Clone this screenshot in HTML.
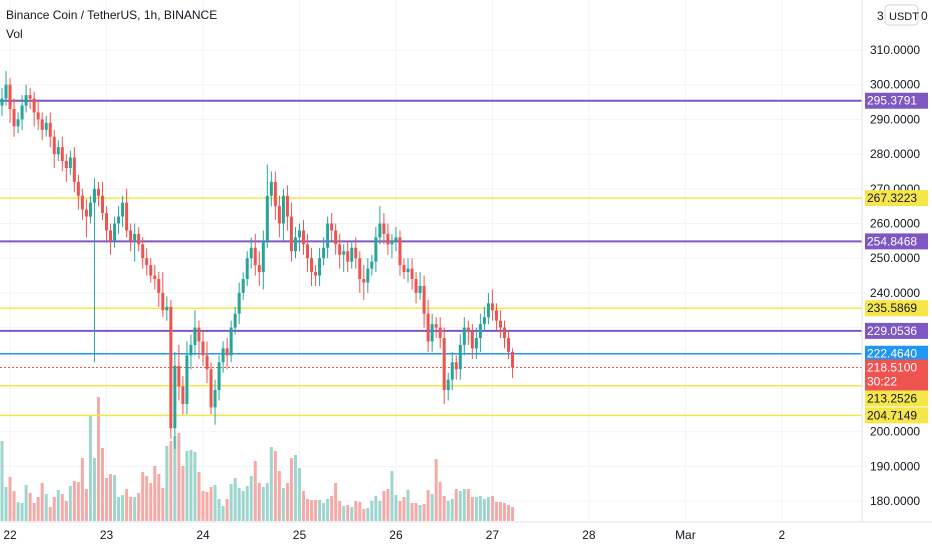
<!DOCTYPE html>
<html><head><meta charset="utf-8"><style>
html,body{margin:0;padding:0;background:#fff;overflow:hidden}
svg{display:block;font-family:"Liberation Sans",sans-serif}
</style></head><body>
<svg id="chart" width="932" height="550" viewBox="0 0 932 550">
<rect width="932" height="550" fill="#fff"/>
<g id="grid"></g>
<g id="vol"></g>
<g id="levels"></g>
<g id="candles"></g>
<line x1="862" y1="0" x2="862" y2="522" stroke="#e0e3eb"/>
<line x1="0" y1="522" x2="932" y2="522" stroke="#e0e3eb"/>
<g id="yaxis"></g>
<g id="xaxis"></g>
<g id="labels"></g>
<text x="6" y="19" font-size="12" fill="#131722">Binance Coin / TetherUS, 1h, BINANCE</text>
<text x="6" y="38" font-size="12" fill="#131722">Vol</text>
<text x="877" y="20" font-size="12" fill="#131722">3</text>
<rect x="885" y="5" width="33" height="20" rx="4" fill="#fff" stroke="#d1d4dc"/>
<text x="889" y="20" font-size="11" fill="#131722">USDT</text>
<text x="921" y="20" font-size="12" fill="#131722">0</text>
</svg>
<script>
const closes=[296,300,293,288,290,294,297,296,292,290,287,289,285,280,282,278,276,279,272,268,264,262,266,270,268,263,258,255,260,262,266,258,255,257,254,250,248,245,244,240,235,236,201,219,213,208,222,225,230,226,222,218,207,212,220,224,222,230,234,240,244,250,253,248,246,255,268,272,265,260,268,262,252,256,258,254,250,246,245,250,253,260,258,254,251,252,249,253,250,244,243,247,249,256,260,257,254,255,256,248,246,247,244,240,242,234,226,231,230,227,212,215,220,218,225,230,229,224,227,231,233,237,235,232,230,227,223,218.51];
const wickUp=[3,4,2,3,2,3,3,2,2,3,2,2,3,2,2,3,2,2,3,2,2,3,2,3,2,4,2,2,2,3,2,4,2,3,2,2,3,2,3,2,6,3,2,4,6,3,4,3,5,2,3,4,2,3,2,2,3,2,2,3,2,2,3,4,4,3,9,3,3,3,2,3,4,3,2,3,3,3,2,3,3,2,3,2,3,2,3,2,3,2,4,3,2,3,5,3,3,2,3,2,2,3,3,2,4,3,4,3,2,3,3,2,3,2,3,3,2,2,3,3,3,3,4,2,3,2,2,1];
const wickDn=[3,2,4,3,2,3,2,3,4,3,3,2,3,4,2,3,4,2,3,4,3,6,2,46,3,2,3,4,2,3,3,2,3,6,2,3,3,2,3,4,2,3,3,6,4,3,3,4,3,5,3,4,2,5,3,3,4,2,2,3,2,2,3,3,4,5,2,3,4,4,5,4,3,2,4,3,4,4,3,3,2,3,3,3,4,5,3,2,3,4,5,3,2,3,2,3,3,4,3,3,2,3,3,3,2,4,3,3,3,3,4,3,3,3,3,3,4,3,3,4,2,2,3,3,3,3,2,3];
const volumes=[80,34,44,30,19,18,36,28,18,24,38,27,14,24,31,27,20,35,40,39,63,32,105,63,124,73,43,47,46,24,26,32,24,24,28,49,45,38,55,47,33,75,80,85,88,55,70,71,69,49,30,29,34,36,22,15,22,37,43,33,30,35,45,60,38,34,38,74,70,50,33,38,63,66,53,30,22,21,21,21,18,22,25,38,20,15,16,14,20,19,12,13,20,25,20,30,32,50,26,20,24,31,18,18,16,17,31,27,62,39,25,20,22,32,30,32,32,24,24,25,22,24,25,19,19,18,16,14];
const priceTicks=[310,300,290,280,270,260,250,240,230,200,190,180];
const dayLabels=["22","23","24","25","26","27","28","Mar","2"];
const dayIndex=[2,26,50,74,98,122,146,170,194];
const levelPrices=[295.3791,254.8468,229.0536,267.3223,235.5869,213.2526,204.7149,222.4640];
const levelKinds=["purple","purple","purple","yellow","yellow","yellow","yellow","blue"];
const lastPrice=218.51;

const NS="http://www.w3.org/2000/svg";
const colors={purple:"#7e57c2",yellow:"#f7e64a",blue:"#2196f3"};
const textCol={purple:"#fff",yellow:"#131722",blue:"#fff"};
const yS=p=>50+(310-p)*3.47;
const xS=i=>2+i*4.02;
const vS=v=>v*1.0;
function mk(tag,attrs,parent){const e=document.createElementNS(NS,tag);for(const k in attrs)e.setAttribute(k,attrs[k]);parent.appendChild(e);return e;}
const g=id=>document.getElementById(id);

priceTicks.forEach(p=>{const l=mk('line',{x1:0,x2:862,y1:yS(p),y2:yS(p),stroke:'#f0f3fa'},g('grid'));

});
dayIndex.forEach(i=>{const l=mk('line',{x1:xS(i),x2:xS(i),y1:0,y2:522,stroke:'#f0f3fa'},g('grid'));

});

closes.forEach((c,i)=>{
 const o=i===0?294:closes[i-1];
 const up=c>=o;
 const col=up?'#26a69a':'#ef5350';
 const hi=Math.max(o,c)+wickUp[i], lo=Math.min(o,c)-wickDn[i];
 const x=xS(i);
 const vb=mk('rect',{x:x-1.5,y:521-vS(volumes[i]),width:3,height:vS(volumes[i]),fill:up?'#9ed6cf':'#f5aaa8'},g('vol'));
 
 
 const w=mk('line',{x1:x,x2:x,y1:yS(hi),y2:yS(lo),stroke:col,'stroke-width':1},g('candles'));
 
 
 const top=yS(Math.max(o,c)),h=Math.max(1,Math.abs(yS(o)-yS(c)));
 const b=mk('rect',{x:x-1.5,y:top,width:3,height:h,fill:col},g('candles'));
 
 
});

levelPrices.forEach((p,i)=>{
 const l=mk('line',{x1:0,x2:862,y1:yS(p),y2:yS(p),stroke:colors[levelKinds[i]],'stroke-width':levelKinds[i]==='purple'?2:1.5},g('levels'));
 
 
});
const ll=mk('line',{x1:0,x2:862,y1:yS(lastPrice),y2:yS(lastPrice),stroke:'#ef5350','stroke-dasharray':'2,2'},g('levels'));



priceTicks.forEach(p=>{
 const t=mk('text',{x:870,y:yS(p)+4,'font-size':12,fill:'#131722'},g('yaxis'));t.textContent=p.toFixed(4);
 
 
});
dayIndex.forEach((i,k)=>{
 const t=mk('text',{x:xS(i),y:539,'font-size':12,fill:'#131722','text-anchor':'middle'},g('xaxis'));t.textContent=dayLabels[k];
 
 
});

const ly=yS(lastPrice);
levelPrices.forEach((p,i)=>{
 const k=levelKinds[i];
 let y=yS(p);
 if(y>ly-8 && y<ly+34) y=ly+31;
 const r=mk('rect',{x:865,y:y-8,width:63,height:16,fill:colors[k]},g('labels'));
 
 
 const t=mk('text',{x:867,y:y+4,'font-size':12,fill:textCol[k]},g('labels'));t.textContent=p.toFixed(4);
 
 
});
const lr=mk('rect',{x:865,y:ly-8,width:63,height:31,fill:'#ef5350'},g('labels'));


const lt=mk('text',{x:867,y:ly+4,'font-size':12,fill:'#fff'},g('labels'));lt.textContent=lastPrice.toFixed(4);


const ct=mk('text',{x:867,y:ly+18,'font-size':12,fill:'#fff'},g('labels'));ct.textContent='30:22';


</script>
</body></html>
